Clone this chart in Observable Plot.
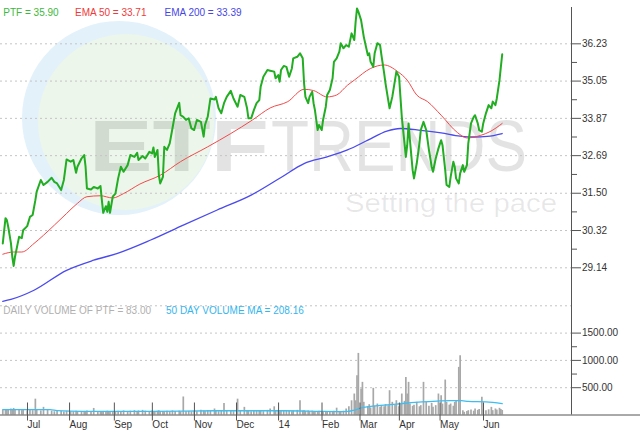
<!DOCTYPE html>
<html><head><meta charset="utf-8">
<script src="https://cdn.jsdelivr.net/npm/d3@7"></script>
<script src="https://cdn.jsdelivr.net/npm/@observablehq/plot@0.6"></script>
<style>
body{margin:0;background:#fff;font-family:"Liberation Sans",Arial,sans-serif;}
#wrap{position:relative;width:640px;height:443px;overflow:hidden;background:#fff;}
#wrap svg{position:absolute;left:0;}
.abs{position:absolute;white-space:nowrap;}
.lg{font-size:10px;line-height:12px;}
.ring{border-radius:50%;}
.wmtext{transform-origin:0 0;line-height:1;color:rgba(0,0,0,0.11);}
</style></head>
<body><div id="wrap">
<div class="abs ring" style="left:21.5px;top:20.5px;width:194px;height:194px;background:#e3f1fa;"></div>
<div class="abs ring" style="left:38px;top:34px;width:176px;height:176px;background:#ecf6ea;"></div>
<div id="wmETF" class="abs wmtext" style="left:89px;top:109.6px;font-size:72px;font-weight:bold;">ETF</div>
<div id="wmTRENDS" class="abs wmtext" style="left:271px;top:109.6px;font-size:72px;">TRENDS</div>
<div id="wmTag" class="abs wmtext" style="left:345px;top:190px;font-size:26px;color:rgba(0,0,0,0.09);">Setting the pace</div>
<div id="chart"></div>
<div class="abs lg" style="left:3.3px;top:6.7px;color:#3cb83c;">PTF = 35.90</div>
<div class="abs lg" style="left:75px;top:6.7px;color:#ee3a3a;">EMA 50 = 33.71</div>
<div class="abs lg" style="left:164.5px;top:6.7px;color:#4646e6;">EMA 200 = 33.39</div>
<div class="abs lg" style="left:3.3px;top:305.3px;color:#b0b0b0;">DAILY VOLUME OF PTF = 83.00</div>
<div class="abs lg" style="left:166px;top:305.3px;color:#33b5ee;">50 DAY VOLUME MA = 208.16</div>
</div>
<script>
// ---- data ----
const dates = ["2013-06-15","2013-06-17","2013-06-18","2013-06-19","2013-06-21","2013-06-22","2013-06-23","2013-06-24","2013-06-27","2013-06-29",
"2013-06-30","2013-07-03","2013-07-05","2013-07-07","2013-07-09","2013-07-10","2013-07-13","2013-07-15","2013-07-18","2013-07-21",
"2013-07-23","2013-07-25","2013-07-28","2013-07-30","2013-08-01","2013-08-04","2013-08-06","2013-08-08","2013-08-09","2013-08-12",
"2013-08-14","2013-08-15","2013-08-16","2013-08-19","2013-08-21","2013-08-24","2013-08-26","2013-08-27","2013-08-28","2013-08-30",
"2013-08-31","2013-09-01","2013-09-02","2013-09-04","2013-09-06","2013-09-08","2013-09-10","2013-09-12","2013-09-15","2013-09-17",
"2013-09-20","2013-09-22","2013-09-23","2013-09-26","2013-09-28","2013-10-01","2013-10-03","2013-10-04","2013-10-05","2013-10-07",
"2013-10-08","2013-10-09","2013-10-11","2013-10-12","2013-10-14","2013-10-16","2013-10-18","2013-10-20","2013-10-23","2013-10-24",
"2013-10-26","2013-10-28","2013-10-30","2013-11-01","2013-11-03","2013-11-05","2013-11-08","2013-11-10","2013-11-11","2013-11-13",
"2013-11-15","2013-11-18","2013-11-19","2013-11-21","2013-11-23","2013-11-25","2013-11-27","2013-11-30","2013-12-02","2013-12-05",
"2013-12-07","2013-12-10","2013-12-12","2013-12-13","2013-12-15","2013-12-17","2013-12-19","2013-12-21","2013-12-22","2013-12-24",
"2013-12-27","2013-12-29","2014-01-01","2014-01-02","2014-01-04","2014-01-05","2014-01-06","2014-01-08","2014-01-10","2014-01-12",
"2014-01-14","2014-01-15","2014-01-18","2014-01-20","2014-01-22","2014-01-23","2014-01-24","2014-01-26","2014-01-27","2014-01-29",
"2014-01-30","2014-01-31","2014-02-02","2014-02-03","2014-02-05","2014-02-06","2014-02-08","2014-02-09","2014-02-11","2014-02-13",
"2014-02-14","2014-02-16","2014-02-18","2014-02-19","2014-02-21","2014-02-23","2014-02-25","2014-02-27","2014-03-01","2014-03-02",
"2014-03-03","2014-03-04","2014-03-06","2014-03-07","2014-03-08","2014-03-11","2014-03-12","2014-03-13","2014-03-15","2014-03-16",
"2014-03-18","2014-03-20","2014-03-21","2014-03-23","2014-03-24","2014-03-26","2014-03-27","2014-03-29","2014-03-31","2014-04-01",
"2014-04-03","2014-04-04","2014-04-05","2014-04-07","2014-04-08","2014-04-09","2014-04-10","2014-04-11","2014-04-13","2014-04-14",
"2014-04-16","2014-04-18","2014-04-19","2014-04-21","2014-04-23","2014-04-25","2014-04-27","2014-04-28","2014-04-30","2014-05-02",
"2014-05-04","2014-05-05","2014-05-07","2014-05-08","2014-05-10","2014-05-11","2014-05-13","2014-05-14","2014-05-15","2014-05-17",
"2014-05-18","2014-05-20","2014-05-21","2014-05-23","2014-05-24","2014-05-26","2014-05-28","2014-05-29","2014-05-31","2014-06-01",
"2014-06-03","2014-06-04","2014-06-06","2014-06-08","2014-06-10","2014-06-11","2014-06-13","2014-06-14","2014-06-16","2014-06-17",
"2014-06-18"];
const close = [29.91,30.71,30.65,30.44,29.92,29.49,29.20,29.49,30.12,30.08,
30.33,30.46,30.75,30.81,31.28,31.55,31.92,31.76,31.86,31.99,
31.86,31.81,31.60,31.92,32.57,32.50,32.55,32.15,32.34,32.60,
32.71,32.34,31.65,31.62,31.70,31.65,31.73,31.28,30.88,31.09,
30.91,31.23,30.88,31.39,31.49,31.97,32.34,32.18,32.39,32.71,
32.65,32.78,32.55,32.68,32.60,32.81,32.76,32.95,32.65,32.87,
32.07,31.81,32.02,32.97,32.87,33.08,33.55,34.03,34.36,33.97,
33.92,33.82,33.87,33.55,33.50,33.82,33.76,33.29,33.66,33.92,
34.50,34.47,34.55,34.19,34.03,34.35,34.55,34.74,34.50,34.24,
34.61,34.55,34.19,33.87,33.87,34.13,34.35,34.45,34.87,35.19,
35.40,35.38,35.35,35.14,35.24,35.03,35.40,35.53,35.50,35.19,
35.45,35.77,35.82,35.93,35.77,34.98,34.55,34.35,34.55,34.71,
34.35,34.13,33.50,33.66,33.50,33.82,34.24,34.61,34.77,35.14,
35.66,35.77,35.98,36.25,36.09,36.19,36.14,36.56,36.35,36.93,
37.35,37.25,36.98,36.72,36.45,35.87,35.93,35.66,35.50,35.93,
36.25,36.19,35.87,35.30,34.98,34.45,34.19,34.55,35.08,35.35,
35.19,34.55,33.92,33.08,32.65,33.02,33.71,33.18,32.23,31.97,
32.44,33.08,33.50,33.76,33.50,32.87,32.34,32.18,32.60,32.92,
33.18,33.02,32.23,31.76,31.70,32.02,32.50,32.34,31.97,31.81,
32.13,32.39,32.18,32.39,33.08,33.71,33.92,33.97,33.71,33.50,
33.45,33.71,34.03,34.29,34.19,34.40,34.29,34.50,35.08,35.50,
35.90];
const volume = [90,100,85,95,110,90,120,85,95,80,
90,75,85,80,290,85,75,140,90,70,
60,75,65,55,70,60,55,70,60,55,
65,50,75,60,120,55,60,45,65,55,
70,60,50,65,55,70,60,75,65,70,
80,65,75,85,70,60,75,65,55,70,
80,60,65,55,70,60,75,65,70,55,
330,60,65,55,70,60,85,75,65,80,
70,110,75,60,70,210,65,75,60,290,
70,140,65,75,60,70,80,65,75,60,
85,110,150,70,85,60,75,65,80,70,
60,75,85,260,70,80,65,75,60,70,
55,65,60,70,55,65,50,60,55,65,
70,125,45,60,70,110,150,260,384,260,
720,1128,476,598,232,150,189,130,488,160,
201,140,171,150,190,170,445,232,180,262,
150,213,384,250,689,384,598,201,160,180,
232,150,171,598,232,160,213,140,171,384,
354,200,640,232,180,201,160,232,250,872,
1086,79,49,65,79,92,70,110,85,100,
323,90,79,95,140,80,110,90,122,100,
83];
const ema50Dates = ["2013-06-15","2013-06-23","2013-06-29","2013-07-08","2013-07-15","2013-07-23","2013-08-01","2013-08-09","2013-08-16","2013-08-26",
"2013-09-04","2013-09-12","2013-09-24","2013-10-09","2013-10-24","2013-11-13","2013-11-30","2013-12-16","2013-12-29","2014-01-11",
"2014-01-23","2014-01-30","2014-02-09","2014-02-16","2014-02-24","2014-03-01","2014-03-13","2014-03-23","2014-04-02","2014-04-09",
"2014-04-16","2014-04-24","2014-05-04","2014-05-16","2014-05-23","2014-06-02","2014-06-09","2014-06-18"];
const ema50 = [29.57,29.64,29.64,29.91,30.17,30.49,30.86,31.18,31.39,31.42,
31.35,31.49,31.79,32.07,32.50,32.97,33.39,33.82,34.20,34.40,
34.79,34.75,34.55,34.61,34.92,35.08,35.45,35.56,35.35,35.08,
34.61,34.40,33.97,33.42,33.25,33.33,33.45,33.71];
const ema200Dates = ["2013-06-15","2013-06-21","2013-07-08","2013-08-01","2013-08-21","2013-09-07","2013-10-02","2013-10-26","2013-11-20","2013-12-15",
"2014-01-06","2014-01-23","2014-02-09","2014-02-24","2014-03-11","2014-03-25","2014-04-04","2014-04-19","2014-05-04","2014-05-18",
"2014-05-28","2014-06-07","2014-06-18"];
const ema200 = [28.08,28.14,28.43,29.06,29.38,29.59,30.02,30.49,30.97,31.44,
32.00,32.44,32.65,32.87,33.18,33.47,33.55,33.49,33.41,33.31,
33.28,33.30,33.39];
const volMADates = ["2013-06-15","2013-07-20","2013-07-25","2013-08-13","2013-10-02","2013-11-18","2014-01-09","2014-02-04","2014-02-16","2014-02-25",
"2014-03-01","2014-03-06","2014-03-20","2014-04-01","2014-04-12","2014-04-20","2014-05-01","2014-05-11","2014-05-19","2014-05-24",
"2014-06-06","2014-06-18"];
const volMA = [98,98,80,67,67,78,78,67,62,67,
90,130,175,200,225,240,255,265,262,250,
240,208];
const priceTicks = [29.14,30.32,31.50,32.69,33.87,35.05,36.23];
const priceMinorTicks = [29.73,30.91,32.095,33.28,34.46,35.64];
const volumeTicks = [500,1000,1500];
const volumeMinorTicks = [750,1250];
const volumeGrid = [500,1000,1500,2000];
const monthDates = ["2013-07-01","2013-08-01","2013-09-03","2013-10-01","2013-11-01","2013-12-02","2014-01-02","2014-02-03","2014-03-03","2014-04-01","2014-05-01","2014-06-02"];
const monthLabels = ["Jul","Aug","Sep","Oct","Nov","Dec","14","Feb","Mar","Apr","May","Jun"];

// ---- build tables ----
const priceData = dates.map((d,i)=>({date:new Date(d), close:close[i], volume:volume[i]}));
const ema50Data = ema50Dates.map((d,i)=>({date:new Date(d), v:ema50[i]}));
const ema200Data = ema200Dates.map((d,i)=>({date:new Date(d), v:ema200[i]}));
const volMAData = volMADates.map((d,i)=>({date:new Date(d), v:volMA[i]}));
const monthTickDates = monthDates.map(d=>new Date(d));
const labelMap = new Map(monthTickDates.map((d,i)=>[+d, monthLabels[i]]));

const xDomain = [new Date("2013-06-13T07:35Z"), new Date("2014-08-08T01:12Z")];
const axisColor = "#555";
const gridStyle = {stroke:"#c4c4c4", strokeOpacity:1, strokeDasharray:"2,3"};
const svgStyle = {background:"transparent", overflow:"visible", fontFamily:"Liberation Sans, Arial, sans-serif", fontSize:"10px", color:"#333"};

const pricePlot = Plot.plot({
  width:640, height:310, marginLeft:0, marginRight:69, marginTop:0, marginBottom:10,
  style: svgStyle,
  x:{type:"utc", domain:xDomain, axis:null},
  y:{domain:[28.105,37.601], axis:null},
  marks:[
    Plot.gridY(priceTicks, gridStyle),
    Plot.ruleX([xDomain[1]], {stroke:axisColor, insetTop:7}),
    Plot.axisY(priceTicks, {anchor:"right", tickSize:9, tickPadding:1.5, stroke:axisColor, tickFormat:d=>d.toFixed(2), fontSize:10}),
    Plot.axisY(priceMinorTicks, {anchor:"right", tickSize:5, stroke:axisColor, tickFormat:()=>""}),
    Plot.line(ema200Data, {x:"date", y:"v", stroke:"#4a4aee", strokeWidth:1.3, curve:"monotone-x"}),
    Plot.line(ema50Data, {x:"date", y:"v", stroke:"#f24a4a", strokeWidth:1, curve:"monotone-x"}),
    Plot.line(priceData, {x:"date", y:"close", stroke:"#22ad22", strokeWidth:2})
  ]
});
pricePlot.style.top = "0px";

const volPlot = Plot.plot({
  width:640, height:143, marginLeft:0, marginRight:69, marginTop:0, marginBottom:28.5,
  style: svgStyle,
  x:{type:"utc", domain:xDomain, axis:null},
  y:{domain:[0,2097], axis:null},
  marks:[
    Plot.gridY(volumeGrid, gridStyle),
    Plot.ruleX(priceData, {x:"date", y1:0, y2:"volume", stroke:"#a8a8a8", strokeWidth:1.7}),
    Plot.line(volMAData, {x:"date", y:"v", stroke:"#3dbdf0", strokeWidth:1.3, curve:"monotone-x"}),
    Plot.ruleX([xDomain[1]], {stroke:axisColor}),
    Plot.ruleY([0], {stroke:axisColor, insetRight:-69}),
    Plot.axisY(volumeTicks, {anchor:"right", tickSize:9, tickPadding:1.5, stroke:axisColor, tickFormat:d=>d.toFixed(2), fontSize:10}),
    Plot.axisY(volumeMinorTicks, {anchor:"right", tickSize:5, stroke:axisColor, tickFormat:()=>""}),
    Plot.axisX(monthTickDates, {anchor:"bottom", tickSize:18, tickPadding:0, stroke:axisColor, textAnchor:"start", dx:3, dy:-12, fontSize:10, tickFormat:d=>labelMap.get(+d)})
  ]
});
volPlot.style.top = "300px";

const chart = document.getElementById("chart");
chart.appendChild(pricePlot);
chart.appendChild(volPlot);

// fit watermark words to their widths in the reference
function fit(id, w){ const el=document.getElementById(id); const r=el.getBoundingClientRect().width; el.style.transform=`scaleX(${w/r})`; }
fit("wmETF", 180); fit("wmTRENDS", 256); fit("wmTag", 212);
</script>
</body></html>
